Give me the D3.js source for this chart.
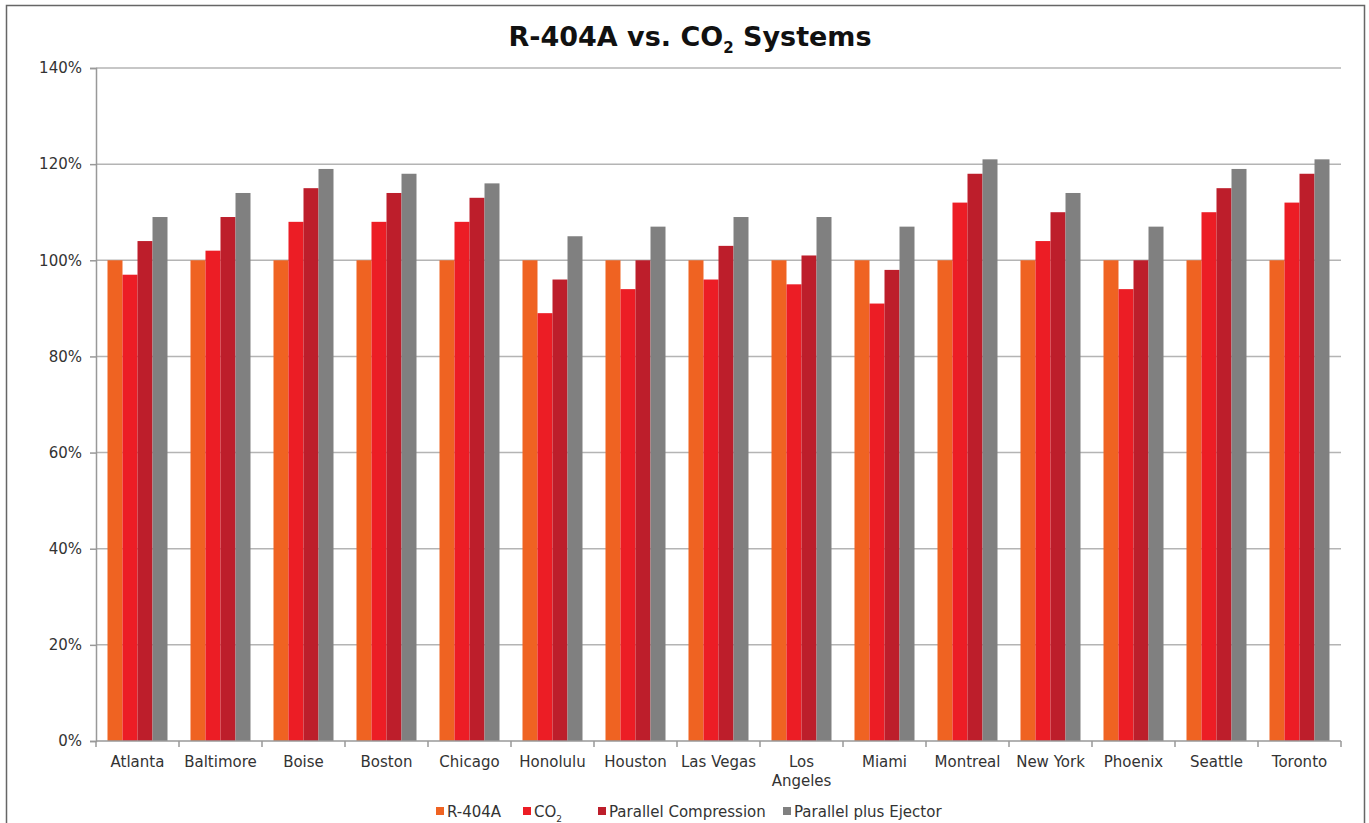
<!DOCTYPE html>
<html>
<head>
<meta charset="utf-8">
<script src="https://cdn.jsdelivr.net/npm/d3@7"></script>
<style>
  body { margin: 0; background: #fff; }
  svg { display: block; font-family: "DejaVu Sans", Verdana, sans-serif; }
</style>
</head>
<body>
<svg id="chart" width="1369" height="823"></svg>
<script>
const cities = ["Atlanta", "Baltimore", "Boise", "Boston", "Chicago", "Honolulu", "Houston",
  "Las Vegas", "Los Angeles", "Miami", "Montreal", "New York", "Phoenix", "Seattle", "Toronto"];
const seriesNames = ["R-404A", "CO2", "Parallel Compression", "Parallel plus Ejector"];
const r404a    = [100, 100, 100, 100, 100, 100, 100, 100, 100, 100, 100, 100, 100, 100, 100];
const co2      = [97, 102, 108, 108, 108, 89, 94, 96, 95, 91, 112, 104, 94, 110, 112];
const parallel = [104, 109, 115, 114, 113, 96, 100, 103, 101, 98, 118, 110, 100, 115, 118];
const ejector  = [109, 114, 119, 118, 116, 105, 107, 109, 109, 107, 121, 114, 107, 119, 121];
const yTicks = [0, 20, 40, 60, 80, 100, 120, 140];
const colors = ["#ef6322", "#ec1d25", "#bd1e2b", "#808080"];

const values = [r404a, co2, parallel, ejector];

const svg = d3.select("#chart");

// frame
svg.append("path")
  .attr("d", "M6.5,823 L6.5,5.5 L1364.5,5.5 L1364.5,823")
  .attr("fill", "none").attr("stroke", "#666").attr("stroke-width", 1.5);

const plotLeft = 96, plotRight = 1341, plotTop = 68, plotBottom = 741;

const x = d3.scaleBand().domain(cities).range([plotLeft, plotRight]).paddingInner(0.277).paddingOuter(0.1385);
const xs = d3.scaleBand().domain(d3.range(4)).range([0, x.bandwidth()]);
const y = d3.scaleLinear().domain([0, 140]).range([plotBottom, plotTop]);

// gridlines
svg.append("g").selectAll("line").data(yTicks.filter(d => d > 0)).join("line")
  .attr("x1", plotLeft).attr("x2", plotRight)
  .attr("y1", d => y(d)).attr("y2", d => y(d))
  .attr("stroke", "#b4b4b4").attr("stroke-width", 1.5);

// bars
const groups = svg.append("g").selectAll("g").data(cities).join("g")
  .attr("transform", d => `translate(${x(d)},0)`);
groups.selectAll("rect")
  .data((c, i) => values.map((v, s) => ({ s, v: v[i] })))
  .join("rect")
  .attr("x", d => xs(d.s))
  .attr("width", xs.bandwidth())
  .attr("y", d => y(d.v))
  .attr("height", d => y(0) - y(d.v))
  .attr("fill", d => colors[d.s]);

// y axis
const yAxis = svg.append("g").attr("transform", `translate(${plotLeft},0)`)
  .call(d3.axisLeft(y).tickValues(yTicks).tickFormat(d => d + "%").tickSize(6).tickPadding(8));
yAxis.select(".domain").attr("stroke", "#999").attr("stroke-width", 1.5);
yAxis.selectAll(".tick line").attr("stroke", "#999").attr("stroke-width", 1.5);
yAxis.selectAll("text").attr("font-size", 15).attr("fill", "#333")
  .attr("font-family", "DejaVu Sans, Verdana, sans-serif");

// x axis
const xAxis = svg.append("g").attr("transform", `translate(0,${plotBottom})`);
xAxis.append("line").attr("x1", plotLeft).attr("x2", plotRight)
  .attr("stroke", "#999").attr("stroke-width", 1.5);
xAxis.selectAll(".tk").data(d3.range(cities.length + 1)).join("line")
  .attr("class", "tk")
  .attr("x1", i => plotLeft + i * x.step()).attr("x2", i => plotLeft + i * x.step())
  .attr("y1", 0).attr("y2", 6)
  .attr("stroke", "#999").attr("stroke-width", 1.5);
xAxis.selectAll("text").data(cities).join("text")
  .attr("x", d => x(d) + x.bandwidth() / 2)
  .attr("text-anchor", "middle")
  .attr("font-size", 15).attr("fill", "#333")
  .each(function (d) {
    const words = d === "Los Angeles" ? ["Los", "Angeles"] : [d];
    d3.select(this).selectAll("tspan").data(words).join("tspan")
      .attr("x", x(d) + x.bandwidth() / 2)
      .attr("y", (w, i) => 26 + i * 19)
      .text(w => w);
  });

// title
const title = svg.append("text")
  .attr("x", 690).attr("y", 46)
  .attr("text-anchor", "middle")
  .attr("font-size", 27).attr("font-weight", "bold").attr("fill", "#111");
title.append("tspan").text("R-404A vs. CO");
title.append("tspan").text("2").attr("font-size", 15).attr("dy", 7);
title.append("tspan").text(" Systems").attr("dy", -7);

// legend
const legendX = [436, 523, 598, 783];
const legend = svg.append("g").selectAll("g").data(seriesNames).join("g")
  .attr("transform", (d, i) => `translate(${legendX[i]},812)`);
legend.append("rect").attr("x", 0).attr("y", -5).attr("width", 8).attr("height", 8)
  .attr("fill", (d, i) => colors[i]);
legend.append("text").attr("x", 11).attr("y", 5).attr("font-size", 15).attr("fill", "#333")
  .each(function (d) {
    const t = d3.select(this);
    if (d === "CO2") {
      t.append("tspan").text("CO");
      t.append("tspan").text("2").attr("font-size", 9).attr("dy", 5);
    } else {
      t.text(d);
    }
  });
</script>
</body>
</html>
